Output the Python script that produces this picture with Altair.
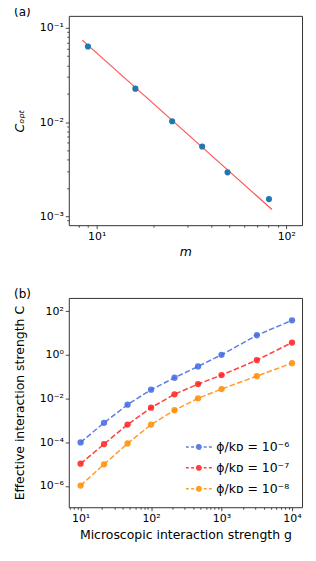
import altair as alt
import pandas as pd

# ---------------- data ----------------
# panel (a)
m_vals = [9, 16, 25, 36, 49, 81]
c_opt = [0.0634, 0.0226, 0.0102, 0.0055, 0.00292, 0.00152]
fit_m = [8.4, 84]
fit_c = [0.074, 0.00118]

# panel (b)
g_vals = [10, 21.5, 46.4, 100, 215, 464, 1000, 3162, 10000]
C_e6 = [9.8e-5, 7.7e-4, 5.25e-3, 0.0254, 0.0894, 0.294, 1.0, 7.9, 38]
C_e7 = [1.04e-5, 8.2e-5, 6.4e-4, 3.8e-3, 0.0156, 0.046, 0.118, 0.57, 3.65]
C_e8 = [1.03e-6, 9.7e-6, 8.7e-5, 6.4e-4, 2.9e-3, 0.0102, 0.0272, 0.106, 0.417]
series_names = ["ϕ/kᴅ = 10⁻⁶", "ϕ/kᴅ = 10⁻⁷", "ϕ/kᴅ = 10⁻⁸"]
series_colors = ["#4169e1", "#ff2020", "#ff8c00"]

# axis ticks
a_x_major = [1, 2]          # decades
a_y_major = [-3, -2, -1]
b_x_major = [1, 2, 3, 4]
b_y_major = [-6, -4, -2, 0, 2]
a_x_dom = [7.13, 121]
a_y_dom = [0.000803, 0.134]
b_x_dom = [6.8, 13870]
b_y_dom = [1.05e-7, 404]

SUP = str.maketrans("-0123456789", "⁻⁰¹²³⁴⁵⁶⁷⁸⁹")


def minor_ticks(lo, hi):
    out = []
    e = -10
    while e < 10:
        for k in range(1, 10):
            v = k * 10.0 ** e
            if lo <= v <= hi:
                out.append(float(f"{v:.12g}"))
        e += 1
    return out


def label_expr(decades):
    s = ""
    for e in decades:
        v = 10.0 ** e
        s += f"abs(datum.value/{v!r} - 1) < 1e-6 ? '10{str(e).translate(SUP)}' : "
    return s + "''"


IS_DECADE = "abs(log(datum.value)/LN10 - round(log(datum.value)/LN10)) < 1e-6"
TICKSIZE = {"condition": {"test": IS_DECADE, "value": 3.5}, "value": 2}


def log_axis(title, decades, lo, hi, minor=True, **kw):
    vals = minor_ticks(lo, hi) if minor else [10.0 ** e for e in decades]
    return alt.Axis(title=title, values=vals, labelExpr=label_expr(decades),
                    tickSize=TICKSIZE, grid=False, domain=False, **kw)


# ---------------- panel (a) ----------------
df_a = pd.DataFrame({"m": m_vals, "c": c_opt})
df_fit = pd.DataFrame({"m": fit_m, "c": fit_c})

xa = alt.X("m:Q", scale=alt.Scale(type="log", domain=a_x_dom, nice=False),
           axis=log_axis("m", a_x_major, *a_x_dom, titleFontStyle="italic"))
ya = alt.Y("c:Q", scale=alt.Scale(type="log", domain=a_y_dom, nice=False),
           axis=log_axis("Cₒₚₜ", a_y_major, *a_y_dom, titleFontStyle="italic",
                         minExtent=36, titlePadding=6))

fit_line = alt.Chart(df_fit).mark_line(color="#ff4040", strokeWidth=1.2, opacity=0.9).encode(x=xa, y=ya)
pts_a = alt.Chart(df_a).mark_circle(size=38, color="#1f77b4", opacity=1).encode(x="m:Q", y="c:Q")

panel_a = alt.layer(fit_line, pts_a).properties(
    width=234, height=210,
    title=alt.TitleParams("(a)", anchor="start", fontSize=12, fontWeight="normal",
                          font="DejaVu Sans", offset=-3, color="black"),
)

# ---------------- panel (b) ----------------
rows = []
for name, vals in zip(series_names, [C_e6, C_e7, C_e8]):
    for g, c in zip(g_vals, vals):
        rows.append({"series": name, "g": g, "C": c})
df_b = pd.DataFrame(rows)

xb = alt.X("g:Q", scale=alt.Scale(type="log", domain=b_x_dom, nice=False),
           axis=log_axis("Microscopic interaction strength g", b_x_major, *b_x_dom, titlePadding=5))
yb = alt.Y("C:Q", scale=alt.Scale(type="log", domain=b_y_dom, nice=False),
           axis=log_axis("Effective interaction strength C", b_y_major, *b_y_dom, minor=False,
                         minExtent=36, titlePadding=6))

r_out, r_in = 0.345, 0.12
symbol_path = (
    "M-2,0L-1.55,0M-1.2,0L-0.75,0M0.75,0L1.2,0M1.55,0L2,0"
    f"M{-r_out},0A{r_out},{r_out} 0 1,0 {r_out},0A{r_out},{r_out} 0 1,0 {-r_out},0"
    f"M{-r_in},0A{r_in},{r_in} 0 1,0 {r_in},0A{r_in},{r_in} 0 1,0 {-r_in},0"
)

lines_b = alt.Chart(df_b).mark_line(strokeDash=[5.5, 2.4], strokeWidth=1.5, opacity=0.85).encode(
    x=xb, y=yb,
    stroke=alt.Stroke("series:N",
                      scale=alt.Scale(domain=series_names, range=series_colors),
                      legend=alt.Legend(title=None, orient="bottom-right", offset=12,
                                        symbolType=symbol_path, symbolSize=169,
                                        symbolStrokeWidth=1.5, symbolDash=[1, 0],
                                        symbolOpacity=0.85,
                                        labelFontSize=12.5, labelFont="DejaVu Sans",
                                        labelColor="black", labelOffset=10,
                                        rowPadding=7, padding=0)),
)
pts_b = alt.Chart(df_b).mark_circle(size=40, opacity=0.85).encode(
    x="g:Q", y="C:Q",
    fill=alt.Fill("series:N", scale=alt.Scale(domain=series_names, range=series_colors), legend=None),
)

panel_b = alt.layer(lines_b, pts_b).properties(
    width=234, height=210,
    title=alt.TitleParams("(b)", anchor="start", fontSize=12, fontWeight="normal",
                          font="DejaVu Sans", offset=-3, color="black"),
)

chart = alt.vconcat(panel_a, panel_b, spacing=28).resolve_scale(
    stroke="independent", fill="independent"
).resolve_legend(
    stroke="independent", fill="independent"
).properties(
    padding={"top": -4, "left": 5, "right": 5, "bottom": 5}
).configure_view(
    stroke="#333333", strokeWidth=1
).configure_axis(
    labelFont="DejaVu Sans", titleFont="DejaVu Sans", labelFontSize=11, titleFontSize=12.5,
    titleFontWeight="normal", labelColor="black", titleColor="black", tickColor="#333333",
    tickWidth=0.9, labelPadding=2, titlePadding=4,
)

chart.save("out.html", embed_options={"renderer": "svg", "actions": False})
